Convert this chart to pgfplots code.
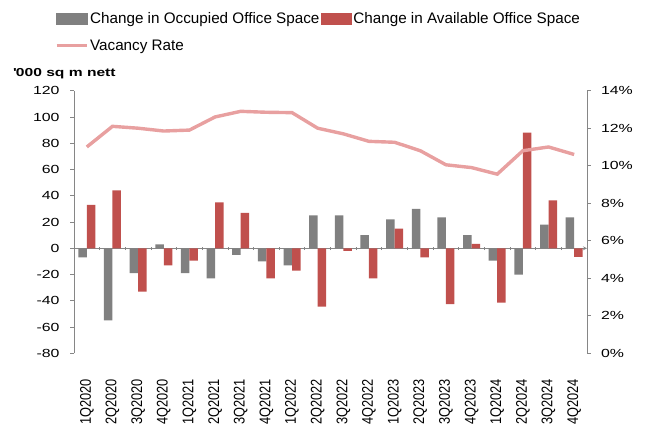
\documentclass[border=0pt]{standalone}
\usepackage{fontspec}
\setmainfont{Liberation Sans}
\newfontfamily\widefont[FakeStretch=1.35]{Liberation Sans}
\newfontfamily\narrowfont[FakeStretch=0.83]{Liberation Sans}
\usepackage{pgfplots}
\usepackage{pgfplotstable}
\pgfplotsset{compat=1.18}

\definecolor{occgray}{HTML}{808080}
\definecolor{availred}{HTML}{C0504D}
\definecolor{vacpink}{HTML}{E8A0A0}
\definecolor{axisgray}{HTML}{868686}

% quarterly office market data: changes in '000 sq m nett, vacancy in %
\pgfplotstableread{
x  occ    avail  vac
0  -7     33     11.0
1  -55    44     12.1
2  -19    -33    12.0
3  3      -13    11.85
4  -19    -9.5   11.9
5  -23    35     12.6
6  -5     27     12.9
7  -10    -23    12.85
8  -13    -17    12.83
9  25     -44.5  12.0
10 25     -2     11.7
11 10     -23    11.3
12 22     15     11.25
13 30     -7     10.8
14 23.5   -42.5  10.05
15 10     3.3    9.9
16 -9.5   -41.5  9.55
17 -20    88     10.8
18 18     36.5   11.0
19 23.5   -6.5   10.6
}\officedata

\pgfplotsset{
  panel/.style={
    at={(74bp,83.7bp)}, anchor=south west,
    scale only axis, width=513bp, height=262.6bp,
    xmin=-0.5, xmax=19.5,
    axis line style={-, draw=axisgray, line width=0.8bp},
    tick style={draw=axisgray, line width=0.8bp},
    tick align=outside, major tick length=3.5bp,
    /pgf/number format/assume math mode=true,
    yticklabel style={font=\widefont\fontsize{11.8}{12}\selectfont, text=black},
  }
}

\begin{document}
\begin{tikzpicture}
\useasboundingbox (0,0) rectangle (650bp,437bp);

% zero line with category separators
\begin{axis}[panel,
  ymin=-80, ymax=120,
  axis x line=middle, axis y line=none,
  xtick={-0.5,0.5,...,19.5}, xticklabels={},
]
\end{axis}

% bars on the left axis
\begin{axis}[panel,
  ymin=-80, ymax=120, ytick={-80,-60,...,120},
  axis y line*=left, axis x line*=bottom,
  x axis line style={draw=none},
  yticklabel style={xshift=-7.5bp},
  xtick={0,...,19},
  xticklabels={1Q2020,2Q2020,3Q2020,4Q2020,1Q2021,2Q2021,3Q2021,4Q2021,1Q2022,2Q2022,3Q2022,4Q2022,1Q2023,2Q2023,3Q2023,4Q2023,1Q2024,2Q2024,3Q2024,4Q2024},
  major x tick style={draw=none},
  xticklabel shift=19bp,
  xticklabel style={rotate=90, anchor=east,
    font=\narrowfont\fontsize{15.5}{16}\selectfont},
  ybar=0pt, bar width=8.5bp,
]
\addplot[fill=occgray, draw=none] table[x=x, y=occ] {\officedata};
\addplot[fill=availred, draw=none] table[x=x, y=avail] {\officedata};
\end{axis}

% vacancy rate on the right axis
\begin{axis}[panel,
  ymin=0, ymax=14, ytick={0,2,...,14},
  axis y line*=right, axis x line=none,
  yticklabel style={xshift=7bp},
  yticklabel={\pgfmathprintnumber{\tick}\%},
  legend columns=2,
  legend cell align=left,
  legend style={draw=none, fill=none, at={(-0.043,1.312)}, anchor=north west,
    font=\fontsize{15.3}{17}\selectfont,
    nodes={inner sep=1.5bp}, column sep=0bp, row sep=12bp},
]
\addlegendimage{legend image code/.code={\fill[occgray] (0bp,-5.3bp) rectangle (30.5bp,5.3bp);}}
\addlegendentry{Change in Occupied Office Space}
\addlegendimage{legend image code/.code={\fill[availred] (0bp,-5.3bp) rectangle (30.5bp,5.3bp);}}
\addlegendentry{Change in Available Office Space}
\addplot[vacpink, line width=3.4bp, mark=none,
  legend image code/.code={\draw[vacpink, line width=3bp] (0bp,0bp) -- (30.5bp,0bp);}]
  table[x=x, y=vac] {\officedata};
\addlegendentry{Vacancy Rate}
\end{axis}

\node[anchor=west, inner sep=0pt, font=\widefont\bfseries\fontsize{11.6}{12}\selectfont]
  at (13bp,363bp) {\textquotesingle000 sq m nett};
\end{tikzpicture}
\end{document}
